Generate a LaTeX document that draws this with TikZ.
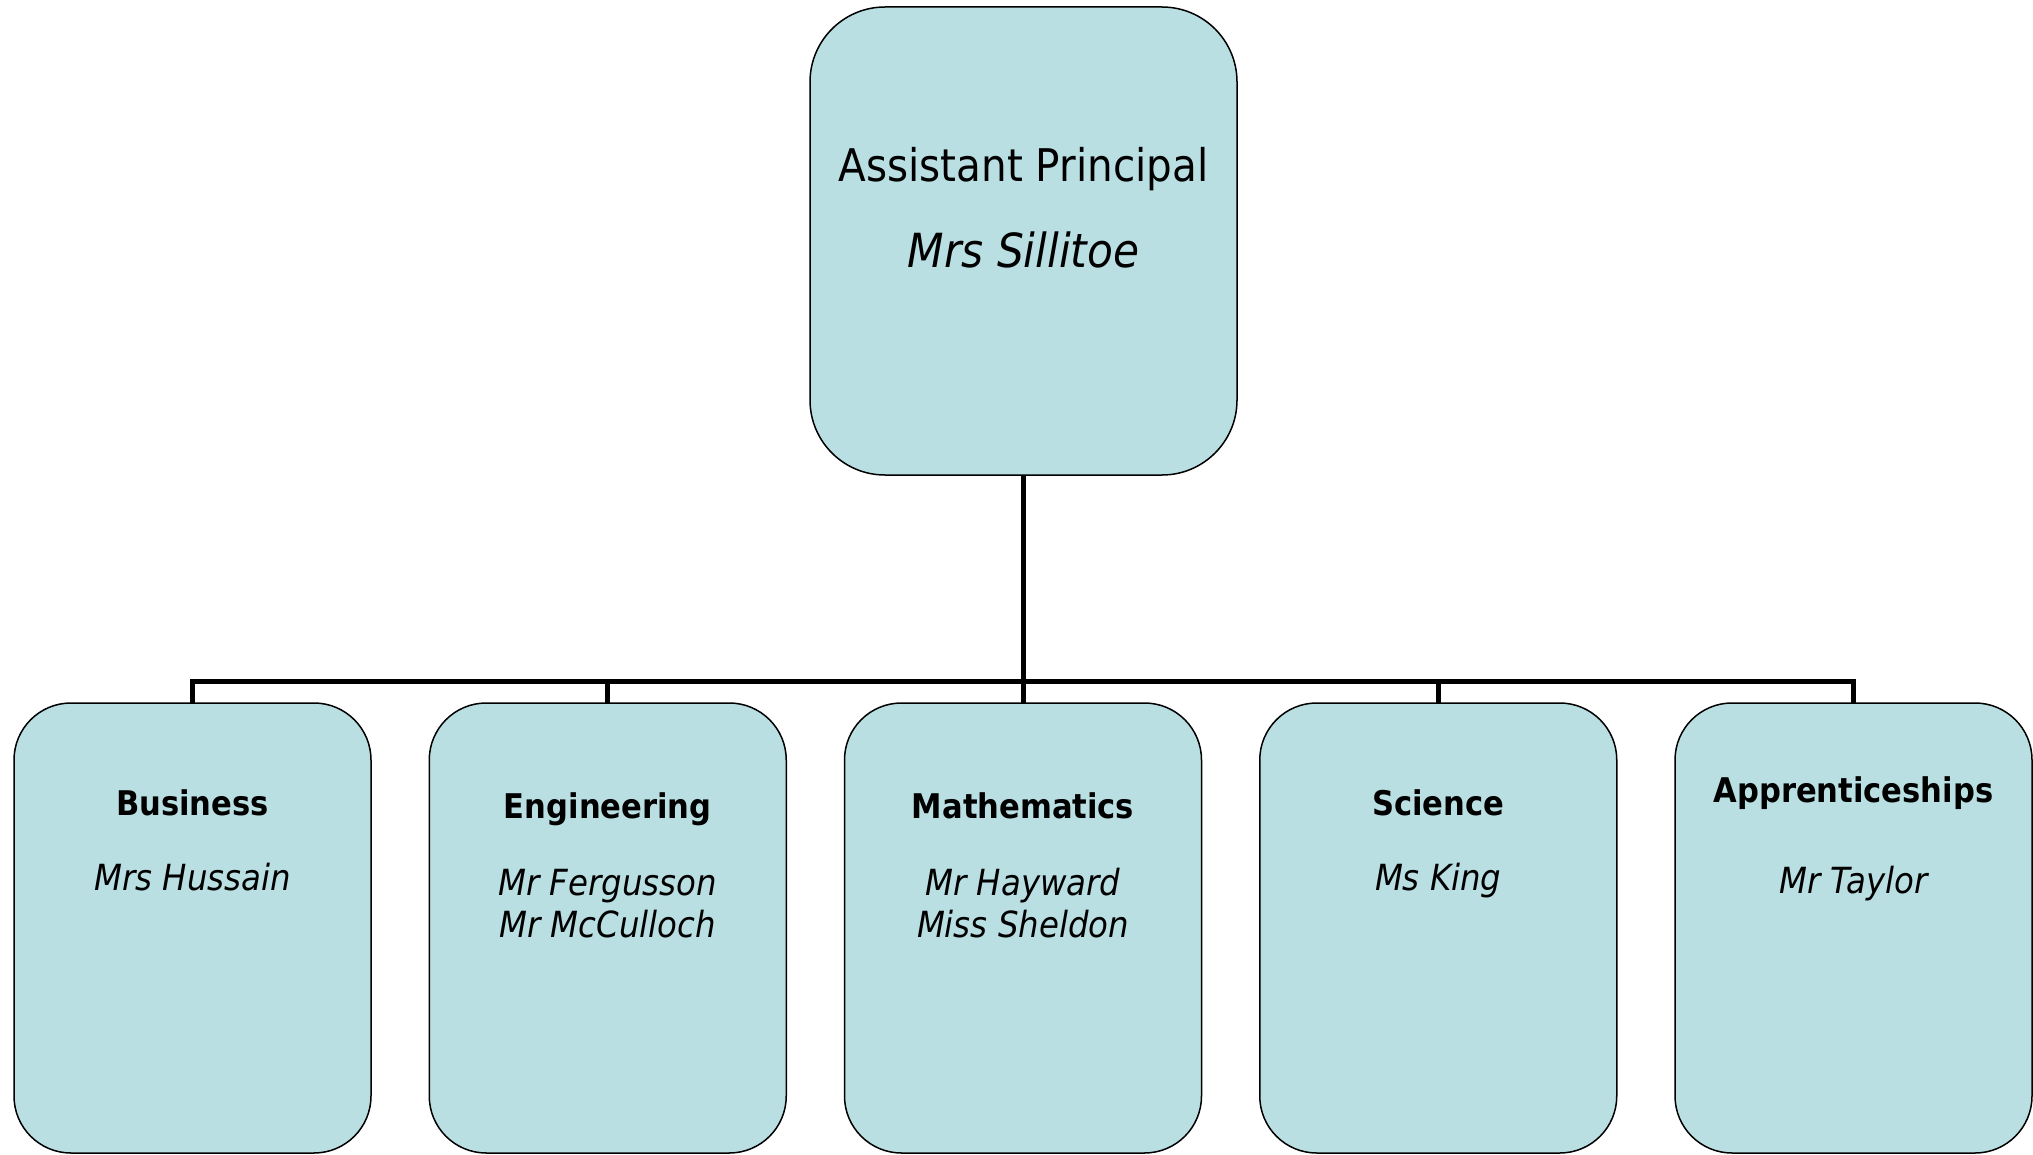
\documentclass[tikz,border=0pt]{standalone}
\usepackage{fontspec}
\setmainfont{DejaVu Sans Condensed}
\usetikzlibrary{positioning}
\definecolor{boxblue}{RGB}{185,223,227}
\begin{document}
\begin{tikzpicture}[x=1pt,y=1pt,
  box/.style={draw=black,line width=1.5pt,fill=boxblue,inner sep=0pt,outer sep=0pt},
  headbox/.style={box,minimum width=427pt,minimum height=468pt,rounded corners=75pt},
  deptbox/.style={box,minimum width=357pt,minimum height=450pt,rounded corners=57pt},
  dept/.style={anchor=base,font=\fontsize{34}{41}\selectfont\bfseries},
  who/.style={anchor=base,align=center,font=\fontsize{36}{42}\selectfont\itshape},
  link/.style={line width=5pt}]
\useasboundingbox (0,0) rectangle (2033,-1155);
% head of the tree
\node[headbox] (ap) at (1023.5,-241) {};
\node[anchor=base,font=\fontsize{45}{54}\selectfont] (apt) at ([yshift=-175]ap.north) {Assistant Principal};
\node[anchor=base,font=\fontsize{47}{54}\selectfont\itshape] (apw) at ([yshift=-261]ap.north) {Mrs Sillitoe};
% departments
\node[deptbox] (biz) at (192.5,-928) {};
\node[deptbox,right=58.25pt of biz] (eng) {};
\node[deptbox,right=58.25pt of eng] (math) {};
\node[deptbox,right=58.25pt of math] (sci) {};
\node[deptbox,right=58.25pt of sci] (app) {};
\node[dept] (bizt) at ([yshift=-112]biz.north) {Business};
\node[who] (bizw) at ([yshift=-187]biz.north) {Mrs Hussain};
\node[dept] (engt) at ([yshift=-115]eng.north) {Engineering};
\node[who] (engw) at ([yshift=-234]eng.north) {Mr Fergusson\\Mr McCulloch};
\node[dept] (matht) at ([yshift=-115]math.north) {Mathematics};
\node[who] (mathw) at ([yshift=-234]math.north) {Mr Hayward\\Miss Sheldon};
\node[dept] (scit) at ([yshift=-112]sci.north) {Science};
\node[who] (sciw) at ([yshift=-187]sci.north) {Ms King};
\node[dept] (appt) at ([yshift=-99]app.north) {Apprenticeships};
\node[who] (appw) at ([yshift=-190]app.north) {Mr Taylor};
% connectors
\coordinate (bus) at (1023.5,-681);
\draw[link] (ap.south) -- (bus);
\draw[link] (biz.north) |- (bus) -| (app.north);
\draw[link] (eng.north) -- (eng.north |- bus);
\draw[link] (math.north) -- (math.north |- bus);
\draw[link] (sci.north) -- (sci.north |- bus);
\end{tikzpicture}
\end{document}
